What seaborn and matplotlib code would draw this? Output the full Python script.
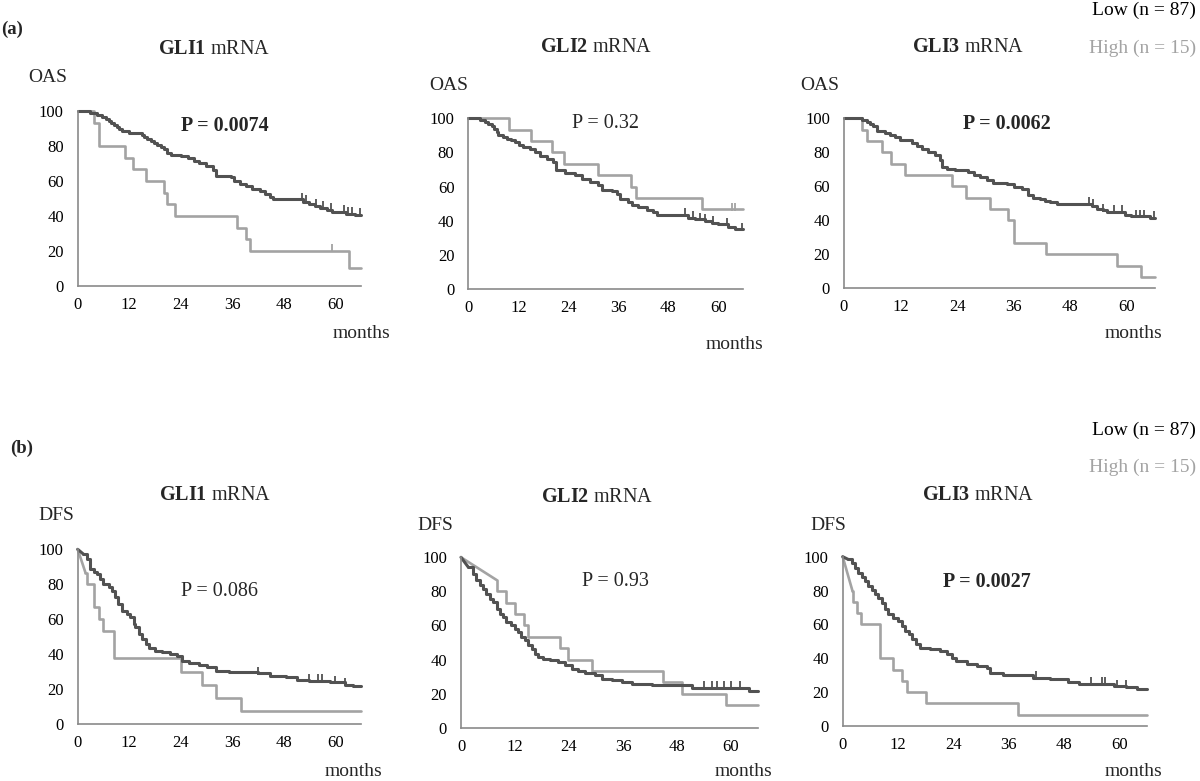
import numpy as np
import matplotlib.pyplot as plt
import seaborn as sns

sns.set_theme(style="white")
plt.rcParams['font.family'] = ['Liberation Serif', 'DejaVu Serif']
plt.rcParams['mathtext.fontset'] = 'custom'
plt.rcParams['mathtext.rm'] = 'Liberation Serif'
plt.rcParams['mathtext.bf'] = 'Liberation Serif:bold'

W, H = 1200, 781
LOW_C = '#525252'
HIGH_C = '#a3a3a3'
AXIS_C = '#8a8a8a'
X_END = 66

month_ticks = [0, 12, 24, 36, 48, 60]
pct_ticks = [0, 20, 40, 60, 80, 100]
low_label = 'Low (n = 87)'
high_label = 'High (n = 15)'

# ---------- (a) overall survival ----------
oas_gli1_low_t = [0, 2.9, 4.5, 5.6, 6.7, 7.2, 7.8, 8.4, 9.2, 9.7, 10.3, 11.9, 15.0, 15.4, 16.2, 17.0,
                  17.8, 18.5, 19.3, 20.1, 20.9, 21.7, 24.0, 25.6, 27.2, 28.3, 29.9, 31.5, 32.2, 35.8,
                  36.5, 37.7, 39.3, 40.5, 42.4, 43.6, 44.8, 45.4, 52.6, 53.8, 55.3, 56.5, 58.0, 59.2,
                  62.4, 64.5]
oas_gli1_low_s = [100, 98.9, 97.7, 96.6, 95.4, 94.3, 93.1, 92.0, 90.8, 89.7, 88.5, 87.4, 86.2, 85.1,
                  83.9, 82.8, 81.6, 80.5, 79.3, 78.2, 76.0, 75.0, 74.0, 72.9, 71.5, 70.0, 68.5, 66.5,
                  63.0, 62.0, 59.8, 58.2, 57.0, 55.3, 54.0, 52.5, 51.0, 49.6, 48.2, 47.1, 45.8, 44.6,
                  43.4, 42.4, 41.3, 40.6]
oas_gli1_low_cens = [52.3, 53.3, 55.6, 57.2, 58.9, 62.1, 62.9, 63.9, 65.8]
oas_gli1_high_t = [0, 3.9, 5.0, 11.1, 12.9, 16.0, 20.1, 20.9, 22.7, 37.2, 39.3, 40.1, 63.3]
oas_gli1_high_s = [100, 93.3, 80, 73.3, 66.7, 60, 53.3, 46.7, 40, 33.3, 26.7, 20, 10]
oas_gli1_high_cens = [59.2]

oas_gli2_low_t = [0, 2.8, 4.0, 4.8, 5.6, 6.2, 6.8, 7.2, 8.4, 9.2, 10.2, 11.2, 12.2, 13.2, 14.8, 16.0,
                  17.2, 18.8, 20.4, 21.0, 23.2, 25.6, 27.2, 29.2, 31.2, 32.0, 34.4, 35.6, 36.4, 38.4,
                  39.2, 40.8, 42.8, 44.4, 45.2, 52.8, 54.4, 56.8, 58.4, 60.0, 62.4, 64.0]
oas_gli2_low_s = [100, 98.8, 97.6, 96.4, 95.2, 93.5, 92.0, 90.0, 89.0, 88.0, 87.0, 86.0, 84.5, 83.2,
                  82.2, 80.0, 78.2, 76.4, 74.4, 69.8, 68.2, 66.6, 64.6, 62.7, 60.7, 57.8, 57.2, 55.6,
                  52.5, 51.0, 49.2, 48.0, 46.3, 45.0, 43.5, 41.8, 40.8, 40.0, 38.9, 37.8, 36.6, 35.0]
oas_gli2_low_cens = [52.0, 54.0, 55.6, 56.8, 58.8, 62.0, 65.8]
oas_gli2_high_t = [0, 9.8, 15.0, 20.2, 22.9, 31.2, 39.0, 40.2, 56.0]
oas_gli2_high_s = [100, 93.3, 86.7, 80, 73.3, 66.7, 60, 53.3, 46.7]
oas_gli2_high_cens = [63.2, 64.0]

oas_gli3_low_t = [0, 3.75, 4.8, 5.5, 6.2, 6.9, 8.7, 9.8, 10.8, 11.9, 14.4, 15.4, 16.5, 17.9, 19.3,
                  20.4, 20.7, 21.8, 23.6, 26.4, 27.5, 28.9, 30.3, 31.7, 34.5, 36.0, 37.7, 39.1, 40.2,
                  41.6, 42.7, 43.7, 45.2, 52.6, 53.6, 55.0, 55.8, 59.7, 61.0, 65.0]
oas_gli3_low_s = [100, 99.0, 97.8, 96.5, 95.2, 92.4, 91.4, 90.0, 88.8, 87.5, 85.5, 83.5, 81.8, 80.2,
                  78.2, 75.3, 71.4, 70.4, 69.4, 68.4, 66.9, 65.5, 63.9, 62.0, 61.4, 59.6, 58.2, 55.1,
                  53.1, 52.4, 51.6, 50.8, 49.8, 48.4, 46.9, 45.9, 44.9, 43.3, 42.4, 41.4]
oas_gli3_low_cens = [51.9, 52.9, 55.0, 57.2, 59.0, 62.0, 62.8, 63.7, 65.8]
oas_gli3_high_t = [0, 3.75, 4.8, 8.0, 9.9, 13.0, 22.9, 25.9, 30.9, 34.9, 36.0, 42.9, 57.9, 63.0]
oas_gli3_high_s = [100, 93.3, 86.7, 80, 73.3, 66.7, 60, 53.3, 46.7, 40, 26.7, 20, 13.3, 6.7]
oas_gli3_high_cens = []

# ---------- (b) disease-free survival ----------
dfs_gli1_low_t = [0, 1.3, 2.1, 2.9, 3.7, 4.5, 5.2, 6.0, 7.2, 8.0, 8.75, 9.5, 10.3, 11.5, 12.3, 13.0,
                  13.4, 14.2, 15.0, 15.8, 16.6, 18.1, 19.7, 21.6, 23.2, 24.4, 26.0, 28.3, 30.2, 32.2,
                  35.3, 42.0, 44.7, 48.6, 51.0, 54.0, 58.75, 62.3, 64.2]
dfs_gli1_low_s = [100, 97.3, 94.5, 88.7, 86.8, 85.9, 83.0, 80.2, 78.6, 76.3, 72.5, 68.7, 64.9, 63.0,
                  61.0, 57.3, 55.3, 51.5, 48.7, 45.8, 43.5, 42.0, 41.0, 40.0, 38.7, 36.3, 34.7, 33.8,
                  32.4, 30.5, 30.0, 29.0, 27.7, 26.7, 25.2, 24.8, 23.9, 22.6, 21.5]
dfs_gli1_low_cens = [42.0, 54.0, 56.0, 57.0, 60.0, 62.3]
dfs_gli1_high_t = [0, 1.8, 2.1, 3.9, 4.9, 6.0, 8.4, 24.0, 29.0, 32.2, 38.1]
dfs_gli1_high_s = [100, 86.7, 80, 66.7, 60, 53.3, 37.5, 30, 22.5, 15, 7.5]
dfs_gli1_high_cens = []

dfs_gli2_low_t = [0, 1.6, 2.7, 3.4, 4.2, 4.9, 5.6, 6.4, 7.1, 8.1, 8.6, 9.4, 10.1, 11.2, 12.0, 12.7,
                  13.4, 14.2, 14.9, 15.7, 16.4, 17.2, 18.3, 19.8, 21.6, 23.1, 24.6, 26.1, 27.6, 29.8,
                  31.3, 33.5, 35.7, 38.0, 42.4, 51.3, 64.0]
dfs_gli2_low_s = [100, 94.3, 90.4, 86.5, 83.6, 81.6, 78.7, 75.7, 73.8, 69.5, 67.0, 65.0, 62.0, 60.0,
                  58.0, 56.2, 53.2, 51.3, 48.3, 46.4, 43.4, 41.5, 40.5, 39.5, 38.6, 37.0, 34.6, 33.0,
                  32.0, 31.0, 28.8, 27.8, 26.8, 25.8, 24.9, 23.3, 21.3]
dfs_gli2_low_cens = [54.0, 55.8, 56.9, 58.4, 59.9, 62.1]
dfs_gli2_high_t = [0, 7.9, 8.1, 10.1, 12.0, 14.0, 14.9, 22.0, 23.8, 29.0, 45.0, 49.1, 58.8]
dfs_gli2_high_s = [100, 86.7, 80, 73.3, 66.7, 60, 53.3, 46.7, 40, 33.3, 26.7, 20, 13.3]
dfs_gli2_high_cens = []

dfs_gli3_low_t = [0, 1.2, 2.0, 2.7, 3.4, 4.1, 4.8, 5.6, 6.3, 7.0, 7.7, 8.5, 9.2, 9.9, 11.0, 12.1,
                  12.8, 13.5, 14.3, 15.0, 15.9, 16.8, 19.0, 21.1, 22.6, 23.7, 24.7, 26.9, 29.1, 31.3,
                  32.0, 34.9, 41.4, 45.0, 49.0, 51.2, 58.8, 61.6, 63.8]
dfs_gli3_low_s = [100, 98.4, 96.5, 93.5, 90.5, 87.9, 85.6, 82.7, 80.1, 77.8, 75.8, 72.8, 68.9, 65.9,
                  64.0, 62.0, 59.0, 56.1, 54.1, 51.2, 48.2, 46.3, 45.3, 44.3, 42.7, 40.4, 38.4, 36.8,
                  35.4, 34.4, 31.5, 29.9, 28.5, 27.6, 26.0, 25.0, 23.6, 23.0, 21.7]
dfs_gli3_low_cens = [42.0, 54.0, 56.2, 57.0, 59.5, 61.5]
dfs_gli3_high_t = [0, 2.1, 2.3, 3.0, 3.9, 8.0, 10.9, 12.8, 14.0, 18.1, 38.0]
dfs_gli3_high_s = [100, 80, 73.3, 66.7, 60, 40, 33.3, 26.7, 20, 13.3, 6.7]
dfs_gli3_high_cens = []

# panel layout in pixels: (left, top, right, bottom)
panels = [
    dict(rect=(77.7, 111, 361, 286), gene='GLI1', p='P = 0.0074', bold=True, ylab='OAS', head=False,
         low=(oas_gli1_low_t, oas_gli1_low_s, oas_gli1_low_cens),
         high=(oas_gli1_high_t, oas_gli1_high_s, oas_gli1_high_cens),
         title_xy=(214, 50), ylab_xy=(28, 77), p_xy=(225, 126), months_xy=(333, 333)),
    dict(rect=(468.3, 118.3, 743.3, 289), gene='GLI2', p='P = 0.32', bold=False, ylab='OAS', head=False,
         low=(oas_gli2_low_t, oas_gli2_low_s, oas_gli2_low_cens),
         high=(oas_gli2_high_t, oas_gli2_high_s, oas_gli2_high_cens),
         title_xy=(596, 48), ylab_xy=(429, 86), p_xy=(606, 123), months_xy=(706, 344)),
    dict(rect=(844, 118.3, 1155, 288.3), gene='GLI3', p='P = 0.0062', bold=True, ylab='OAS', head=False,
         low=(oas_gli3_low_t, oas_gli3_low_s, oas_gli3_low_cens),
         high=(oas_gli3_high_t, oas_gli3_high_s, oas_gli3_high_cens),
         title_xy=(968, 48), ylab_xy=(800, 86), p_xy=(1007, 124), months_xy=(1105, 333)),
    dict(rect=(77.7, 549.3, 361, 724), gene='GLI1', p='P = 0.086', bold=False, ylab='DFS', head=True,
         low=(dfs_gli1_low_t, dfs_gli1_low_s, dfs_gli1_low_cens),
         high=(dfs_gli1_high_t, dfs_gli1_high_s, dfs_gli1_high_cens),
         title_xy=(215, 496), ylab_xy=(38, 516), p_xy=(220, 592), months_xy=(325, 772)),
    dict(rect=(461, 557.3, 758, 727.7), gene='GLI2', p='P = 0.93', bold=False, ylab='DFS', head=True,
         low=(dfs_gli2_low_t, dfs_gli2_low_s, dfs_gli2_low_cens),
         high=(dfs_gli2_high_t, dfs_gli2_high_s, dfs_gli2_high_cens),
         title_xy=(597, 497), ylab_xy=(417, 525), p_xy=(615, 582), months_xy=(715, 772)),
    dict(rect=(842.7, 556.7, 1146.7, 726), gene='GLI3', p='P = 0.0027', bold=True, ylab='DFS', head=True,
         low=(dfs_gli3_low_t, dfs_gli3_low_s, dfs_gli3_low_cens),
         high=(dfs_gli3_high_t, dfs_gli3_high_s, dfs_gli3_high_cens),
         title_xy=(978, 496), ylab_xy=(810, 525), p_xy=(987, 582), months_xy=(1105, 772)),
]


def px(x, y):
    return x / W, 1 - y / H


def draw_curve(ax, t, s, cens, color, lw, head):
    t = list(t) + [X_END]
    s = list(s) + [s[-1]]
    if head:
        # first drop drawn as a straight segment, as in the original
        sns.lineplot(x=t[:2], y=s[:2], ax=ax, color=color, lw=lw, estimator=None,
                     sort=False, clip_on=False)
        t, s = t[1:], s[1:]
    sns.lineplot(x=t, y=s, ax=ax, color=color, lw=lw, drawstyle='steps-post',
                 estimator=None, sort=False, clip_on=False)
    if len(cens):
        idx = np.searchsorted(t, cens, side='right') - 1
        lev = np.array(s)[idx] + 1.5
        ax.scatter(cens, lev, marker='|', s=30, color=color, linewidths=1.3, clip_on=False)


fig = plt.figure(figsize=(12, 7.81), dpi=100)

for p in panels:
    l, t, r, b = p['rect']
    ax = fig.add_axes([l / W, 1 - b / H, (r - l) / W, (b - t) / H])
    draw_curve(ax, *p['high'], HIGH_C, 1.9, p['head'])
    draw_curve(ax, *p['low'], LOW_C, 2.2, p['head'])
    ax.set_xlim(0, X_END)
    ax.set_ylim(0, 100)
    ax.set_xticks(month_ticks)
    ax.set_yticks(pct_ticks)
    ax.set_xlabel('')
    ax.set_ylabel('')
    for side in ['top', 'right']:
        ax.spines[side].set_visible(False)
    for side in ['left', 'bottom']:
        ax.spines[side].set_color(AXIS_C)
        ax.spines[side].set_linewidth(1.2)
    ax.tick_params(axis='both', direction='out', length=4, width=1, color=AXIS_C,
                   labelsize=12, labelcolor='black')
    ax.tick_params(axis='x', pad=4)
    ax.tick_params(axis='y', pad=6)

    fig.text(*px(*p['title_xy']), r'$\mathbf{' + p['gene'] + '}$ mRNA', fontsize=14.5,
             ha='center', va='center')
    fig.text(*px(*p['ylab_xy']), p['ylab'], fontsize=14, ha='left', va='center')
    fig.text(*px(*p['p_xy']), p['p'], fontsize=14.5, ha='center', va='center',
             fontweight='bold' if p['bold'] else 'normal')
    fig.text(*px(*p['months_xy']), 'months', fontsize=14, ha='left', va='center')

# panel letters and group labels
fig.text(*px(1, 29), '(a)', fontsize=13.5, fontweight='bold', ha='left', va='center')
fig.text(*px(10, 448), '(b)', fontsize=13.5, fontweight='bold', ha='left', va='center')
for y_low, y_high in [(10, 48), (430, 467)]:
    fig.text(*px(1196, y_low), low_label, fontsize=14, color='black', ha='right', va='center')
    fig.text(*px(1196, y_high), high_label, fontsize=14, color=HIGH_C, ha='right', va='center')

fig.savefig('out.png', dpi=100, facecolor='white')
